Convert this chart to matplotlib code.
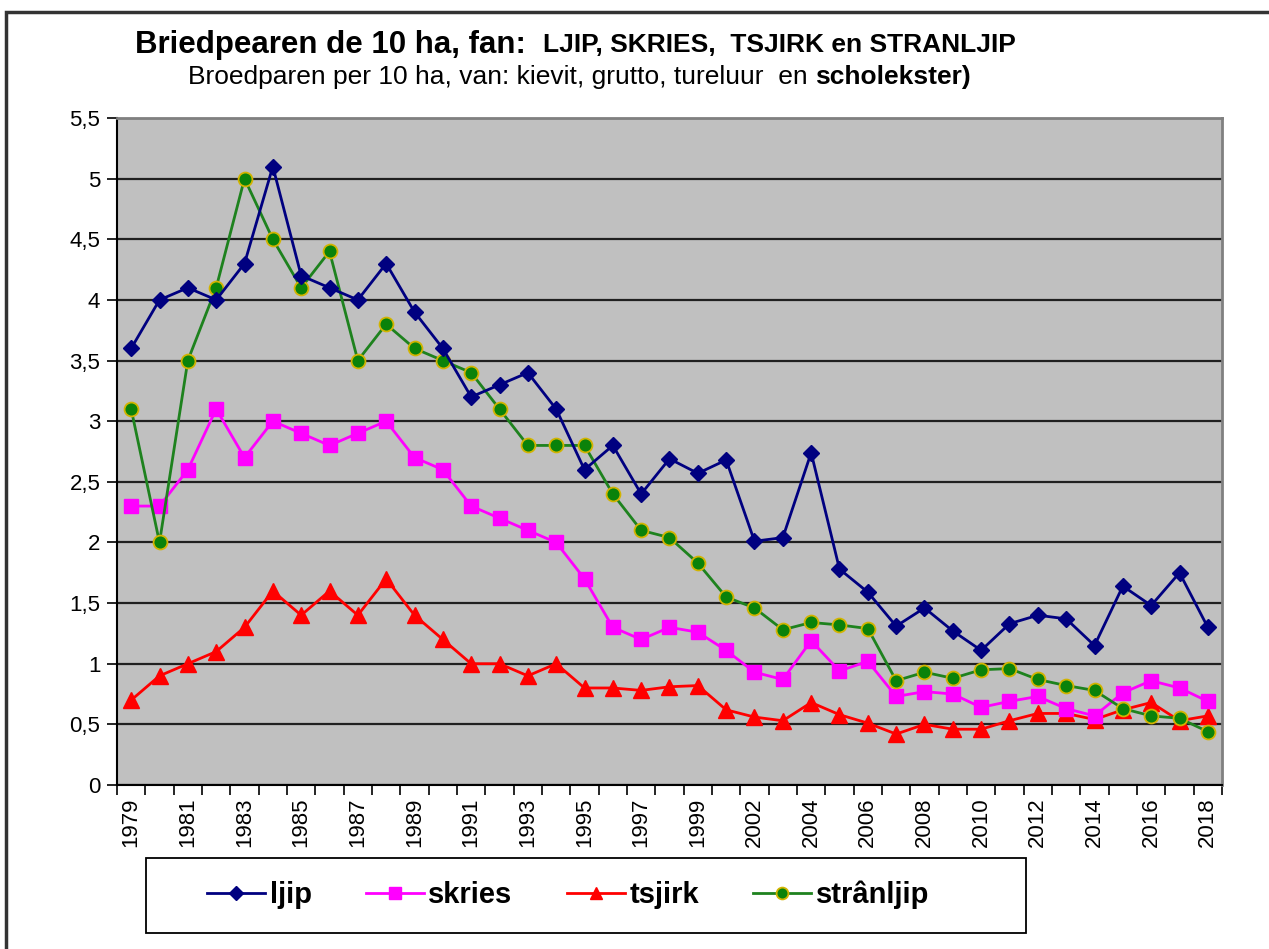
import matplotlib
matplotlib.use("Agg")
import matplotlib.pyplot as plt
from matplotlib.patches import Rectangle

plt.rcParams["font.family"] = ["Liberation Sans", "DejaVu Sans"]

years = [str(y) for y in range(1979, 2001)] + [str(y) for y in range(2002, 2019)]

ljip = [3.6, 4.0, 4.1, 4.0, 4.3, 5.1, 4.2, 4.1, 4.0, 4.3, 3.9, 3.6, 3.2, 3.3, 3.4, 3.1,
        2.6, 2.8, 2.4, 2.69, 2.57, 2.68, 2.01, 2.04, 2.74, 1.78, 1.59, 1.31, 1.46, 1.27,
        1.11, 1.33, 1.40, 1.37, 1.15, 1.64, 1.48, 1.75, 1.30]
skries = [2.3, 2.3, 2.6, 3.1, 2.7, 3.0, 2.9, 2.8, 2.9, 3.0, 2.7, 2.6, 2.3, 2.2, 2.1, 2.0,
          1.7, 1.3, 1.2, 1.3, 1.26, 1.11, 0.93, 0.87, 1.19, 0.94, 1.02, 0.73, 0.77, 0.75,
          0.64, 0.69, 0.73, 0.63, 0.57, 0.76, 0.86, 0.80, 0.69]
tsjirk = [0.7, 0.9, 1.0, 1.1, 1.3, 1.6, 1.4, 1.6, 1.4, 1.7, 1.4, 1.2, 1.0, 1.0, 0.9, 1.0,
          0.8, 0.8, 0.78, 0.81, 0.82, 0.62, 0.56, 0.53, 0.68, 0.58, 0.51, 0.42, 0.50, 0.46,
          0.46, 0.53, 0.59, 0.59, 0.54, 0.62, 0.68, 0.53, 0.57]
stranljip = [3.1, 2.0, 3.5, 4.1, 5.0, 4.5, 4.1, 4.4, 3.5, 3.8, 3.6, 3.5, 3.4, 3.1, 2.8, 2.8,
             2.8, 2.4, 2.1, 2.04, 1.83, 1.55, 1.46, 1.28, 1.34, 1.32, 1.29, 0.86, 0.93, 0.88,
             0.95, 0.96, 0.87, 0.82, 0.78, 0.63, 0.57, 0.55, 0.44]

yticks = [0, 0.5, 1, 1.5, 2, 2.5, 3, 3.5, 4, 4.5, 5, 5.5]
ytick_labels = ["0", "0,5", "1", "1,5", "2", "2,5", "3", "3,5", "4", "4,5", "5", "5,5"]

W, H = 1269, 949
fig = plt.figure(figsize=(W / 100, H / 100), dpi=100)
ax = fig.add_axes([117 / W, 1 - 785 / H, 1105 / W, 667 / H])
ax.set_facecolor("#C0C0C0")

x = list(range(len(years)))
ax.plot(x, ljip, color="#000080", lw=2, marker="D", ms=8, mfc="#000080", mec="#000080", label="ljip", zorder=5)
ax.plot(x, skries, color="#FF00FF", lw=2, marker="s", ms=10, mfc="#FF00FF", mec="#FF00FF", label="skries", zorder=4)
ax.plot(x, tsjirk, color="#FF0000", lw=2, marker="^", ms=11, mfc="#FF0000", mec="#FF0000", label="tsjirk", zorder=3)
ax.plot(x, stranljip, color="#1E821E", lw=2, marker="o", ms=10, mfc="#0A820A", mec="#D2B400", mew=1.3,
        label="strânljip", zorder=4)

ax.set_xlim(-0.5, len(years) - 0.5)
ax.set_ylim(0, 5.5)
ax.set_yticks(yticks)
ax.set_yticklabels(ytick_labels, fontsize=16)
ax.yaxis.grid(True, color="#202020", lw=1.6)
ax.set_axisbelow(True)

ax.set_xticks(x[::2])
ax.set_xticklabels(years[::2], rotation=90, fontsize=16)
ax.set_xticks([i - 0.5 for i in range(len(years) + 1)], minor=True)
ax.tick_params(axis="x", which="major", length=0, pad=9)
ax.tick_params(axis="x", which="minor", length=7, width=1.2, color="black")
ax.tick_params(axis="y", length=7, width=1.2, pad=5)

for s in ["left", "bottom"]:
    ax.spines[s].set_color("black")
    ax.spines[s].set_linewidth(1.5)
for s in ["top", "right"]:
    ax.spines[s].set_color("#808080")
    ax.spines[s].set_linewidth(2)

# legend box drawn separately, entries centred inside
fig.patches.append(Rectangle((146 / W, 1 - 933 / H), 880 / W, 75 / H, transform=fig.transFigure,
                             fill=False, edgecolor="black", lw=1.3))
leg = fig.legend(loc="center", bbox_to_anchor=(568 / W, 1 - 895 / H), ncol=4, frameon=False,
                 prop={"size": 21, "weight": "bold"}, handlelength=2.0, handletextpad=0.15,
                 columnspacing=1.85, markerscale=0.85)

# titel, stukken achter elkaar gezet
renderer = fig.canvas.get_renderer()


def chain(x0, y0, parts):
    xpos = x0
    for txt, size, weight in parts:
        t = fig.text(xpos / W, 1 - y0 / H, txt, fontsize=size, weight=weight, va="center")
        xpos += t.get_window_extent(renderer).width


chain(135, 45, [("Briedpearen de 10 ha, fan:  ", 22.5, "bold"),
                ("LJIP, SKRIES,  TSJIRK en STRANLJIP", 19, "bold")])
chain(188, 77, [("Broedparen per 10 ha, van: kievit, grutto, tureluur  en ", 19, "normal"),
                ("scholekster)", 19, "bold")])

fig.patches.append(Rectangle((6 / W, -0.05), 1.1, 1 - 12 / H + 0.05, transform=fig.transFigure,
                             fill=False, edgecolor="#333333", lw=2.5))

fig.savefig("out.png", dpi=100)
